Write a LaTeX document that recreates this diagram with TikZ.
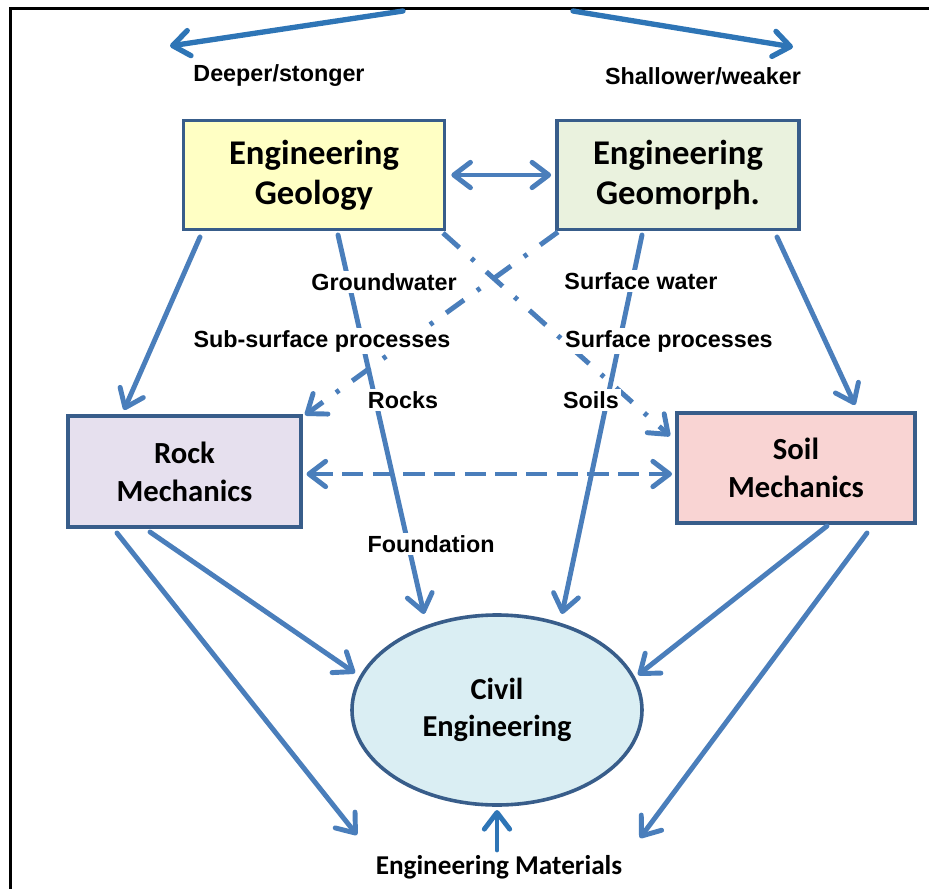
\documentclass[tikz,border=0pt]{standalone}
\usepackage{fontspec}
\setmainfont{Carlito}
\newfontfamily\labelfont{Liberation Sans}
\usetikzlibrary{arrows.meta,shapes.geometric,calc}

\definecolor{linkblue}{HTML}{4A7EBB}
\definecolor{topblue}{HTML}{2E75B6}
\definecolor{boxline}{HTML}{385D8A}
\definecolor{geofill}{HTML}{FFFFC4}
\definecolor{morphfill}{HTML}{EAF2DE}
\definecolor{rockfill}{HTML}{E6E0EE}
\definecolor{soilfill}{HTML}{F9D4D3}
\definecolor{civilfill}{HTML}{DAEEF3}

\begin{document}
\begin{tikzpicture}[x=0.75pt,y=-0.75pt,
  box/.style={draw=boxline,line width=2.7pt,inner sep=0pt,align=center,
    font=\bfseries\fontsize{26}{30}\selectfont},
  midbox/.style={box,font=\bfseries\fontsize{23}{28.5}\selectfont},
  tag/.style={font=\labelfont\bfseries\fontsize{17.5}{20}\selectfont,
    fill=white,inner sep=1.5pt},
  plaintag/.style={font=\labelfont\bfseries\fontsize{17.5}{20}\selectfont,inner sep=0pt},
  barb/.style={Straight Barb[length=12.5pt,width=19pt,round]},
  tip/.style={-{barb}},
  link/.style={draw=linkblue,line width=3.7pt,line cap=round,-{Straight Barb[length=12.5pt,width=19pt,round]}},
  twoway/.style={draw=linkblue,line width=3.7pt,line cap=round,
    {Straight Barb[length=12.5pt,width=19pt,round]}-{Straight Barb[length=12.5pt,width=19pt,round]}},
  dashdotlink/.style={link,line cap=butt,dash pattern=on 16.5pt off 12pt on 3pt off 12pt},
  dashedlink/.style={twoway,line cap=butt,dash pattern=on 16pt off 7pt},
  toplink/.style={draw=topblue,line width=4pt,line cap=round,-{Straight Barb[length=12.5pt,width=19pt,round]}}
]
\useasboundingbox (0,0) rectangle (929,889);

% frame
\draw[line width=2.2pt,line cap=butt] (10.5,900) -- (10.5,8.7) -- (940,8.7);

% boxes
\node[box,fill=geofill,minimum width=195.75pt,minimum height=81.75pt] (geo) at (314,175) {Engineering\\Geology};
\node[box,fill=morphfill,minimum width=181.5pt,minimum height=81.75pt] (morph) at (678,175) {Engineering\\Geomorph.};
\node[midbox,fill=rockfill,minimum width=174.75pt,minimum height=83.25pt] (rock) at (184.5,471.5) {Rock\\Mechanics};
\node[midbox,fill=soilfill,minimum width=178.5pt,minimum height=82.5pt] (soil) at (796,468) {Soil\\Mechanics};
\node[ellipse,draw=boxline,line width=2.7pt,fill=civilfill,inner sep=0pt,
  minimum width=217.5pt,minimum height=142.5pt,align=center,
  font=\bfseries\fontsize{22.8}{28}\selectfont] (civil) at (497,710) {Civil\\Engineering};
\node[font=\bfseries\fontsize{20.4}{24}\selectfont,inner sep=0pt] (mat) at (499,867) {Engineering Materials};

% direction labels and arrows at the top
\node[plaintag] (deep) at (279,76) {Deeper/stonger};
\node[plaintag] (shallow) at (703,76) {Shallower/weaker};
\coordinate (topleft) at (403,11);
\coordinate (topright) at (573,11);
\coordinate (deepend) at (170,46);
\coordinate (shallowend) at (793,47);
\draw[toplink] (topleft) -- (deepend);
\draw[toplink] (topright) -- (shallowend);

% solid connectors
\draw[twoway] ($(geo.east)+(5,0)$) -- ($(morph.west)+(-4,0)$);
\draw[link] ($(geo)+(-114,62)$) -- ($(rock)+(-60.5,-61.5)$);
\draw[link] ($(morph)+(99,62)$) -- ($(soil)+(59,-63)$);
\draw[link] ($(geo)+(24,60)$) -- ($(civil)+(-73,-96)$);
\draw[link] ($(morph)+(-36,60)$) -- ($(civil)+(65,-96)$);
\draw[link] ($(rock)+(-67.5,61.5)$) -- ($(mat)+(-142,-32)$);
\draw[link] ($(rock)+(-34.5,60.5)$) -- ($(civil)+(-142,-37)$);
\draw[link] ($(soil)+(31,58)$) -- ($(civil)+(141,-35)$);
\draw[link] ($(soil)+(71,65)$) -- ($(mat)+(141,-29)$);
\draw[toplink,line width=3.7pt] ($(mat)+(-2,-17)$) -- ($(civil)+(0,100)$);

% broken connectors
\draw[dashdotlink] ($(geo)+(129,58)$) -- ($(soil)+(-126,-32)$);
\draw[dashdotlink] ($(morph)+(-120,57)$) -- ($(rock)+(120.5,-56.5)$);
\draw[dashedlink] ($(rock)+(122,2.5)$) -- ($(soil)+(-124,6)$);

% labels along the links
\node[tag] (gw) at (384,282) {Groundwater};
\node[tag] (ssp) at (322,341) {Sub-surface processes};
\node[tag] (rk) at (403,400) {Rocks};
\node[tag] (fd) at (431,544) {Foundation};
\node[tag] (sw) at (641,281) {Surface water};
\node[tag] (sp) at (669,341) {Surface processes};
\node[tag] (sl) at (591,400) {Soils};
\end{tikzpicture}
\end{document}
